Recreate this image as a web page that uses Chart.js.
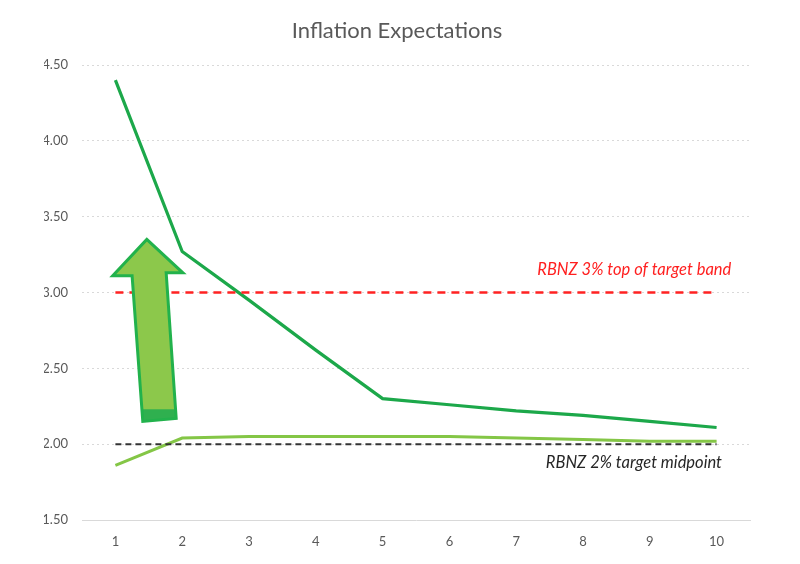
<!DOCTYPE html>
<html lang="en">

<head>
    <meta charset="utf-8">
    <title>Inflation Expectations</title>
    <script src="https://cdn.jsdelivr.net/npm/chart.js@4.4.0/dist/chart.umd.min.js"></script>
    <style>
        body { margin: 0; background: #fff; }
        .kontainer { width: 800px; height: 564px; }
    </style>
</head>

<body>
    <div class="kontainer">
        <canvas id="myChart" width="800" height="564"></canvas>
    </div>
    <script>

        // categories (horizon) and series
        var horisont = ['1', '2', '3', '4', '5', '6', '7', '8', '9', '10'];
        var morkGron = [4.40, 3.27, 2.95, 2.62, 2.30, 2.26, 2.22, 2.19, 2.15, 2.11];
        var ljusGron = [1.86, 2.04, 2.05, 2.05, 2.05, 2.05, 2.04, 2.03, 2.02, 2.02];
        var toppBand = [3, 3, 3, 3, 3, 3, 3, 3, 3, 3];
        var mittpunkt = [2, 2, 2, 2, 2, 2, 2, 2, 2, 2];

        // y-axis ticks
        var yTicks = [1.5, 2.0, 2.5, 3.0, 3.5, 4.0, 4.5];

        // text labels: [text, category index (right edge), value, colour]
        var etiketter = [
            ['RBNZ 3% top of target band', 9.22, 3.15, '#ff1f1f'],
            ['RBNZ 2% target midpoint', 9.08, 1.88, '#262626']
        ];

        // arrow outline in data units: [category index, value]
        var pil = [
            [0.47, 3.35], [1.01, 3.13], [0.76, 3.13], [0.91, 2.17],
            [0.41, 2.15], [0.25, 3.11], [-0.04, 3.11]
        ];

        const FONT = 'Lato, "DejaVu Sans", sans-serif';

        const pilPlugin = {
            id: 'pil',
            afterDatasetsDraw(chart) {
                const ctx = chart.ctx;
                const x = chart.scales.x, y = chart.scales.y;
                const p = pil.map(q => [x.getPixelForValue(q[0]), y.getPixelForValue(q[1])]);
                ctx.save();
                ctx.beginPath();
                p.forEach((q, i) => i ? ctx.lineTo(q[0], q[1]) : ctx.moveTo(q[0], q[1]));
                ctx.closePath();
                ctx.fillStyle = '#8cc84b';
                ctx.fill();
                // darker band at the foot of the shaft
                ctx.save();
                ctx.clip();
                ctx.fillStyle = '#2fb04f';
                const fot = y.getPixelForValue(2.23);
                ctx.fillRect(p[4][0] - 5, fot, p[3][0] - p[4][0] + 10, 30);
                ctx.restore();
                ctx.lineWidth = 3;
                ctx.lineJoin = 'miter';
                ctx.strokeStyle = '#22b24c';
                ctx.stroke();

                // text labels
                ctx.font = 'italic 16.5px ' + FONT;
                ctx.textAlign = 'right';
                ctx.textBaseline = 'middle';
                etiketter.forEach(e => {
                    ctx.fillStyle = e[3];
                    ctx.fillText(e[0], x.getPixelForValue(e[1]), y.getPixelForValue(e[2]));
                });
                ctx.restore();
            }
        };

        const ctx = document.getElementById('myChart').getContext('2d');
        const myChart = new Chart(ctx, {
            type: 'line',
            data: {
                labels: horisont,
                datasets: [{
                    label: 'Top of band',
                    data: toppBand,
                    borderColor: '#ff2222',
                    borderWidth: 2.5,
                    borderDash: [8, 6],
                    pointRadius: 0
                }, {
                    label: 'Midpoint',
                    data: mittpunkt,
                    borderColor: '#333333',
                    borderWidth: 2,
                    borderDash: [6, 4],
                    pointRadius: 0
                }, {
                    label: 'Lower',
                    data: ljusGron,
                    borderColor: '#84c646',
                    borderWidth: 3,
                    pointRadius: 0
                }, {
                    label: 'Upper',
                    data: morkGron,
                    borderColor: '#1ca84a',
                    borderWidth: 3.2,
                    pointRadius: 0
                }]
            },
            options: {
                responsive: false,
                animation: false,
                layout: { padding: { top: 18, right: 50, bottom: 0, left: 44 } },
                plugins: {
                    legend: { display: false },
                    tooltip: { enabled: false },
                    title: {
                        display: true,
                        text: 'Inflation Expectations',
                        color: '#595959',
                        font: { family: FONT, size: 22, weight: 'normal' },
                        padding: { top: 0, bottom: 20.6 }
                    }
                },
                scales: {
                    x: {
                        offset: true,
                        grid: { display: false, drawTicks: false },
                        border: { display: true, color: '#d9d9d9', width: 1 },
                        ticks: { color: '#595959', font: { family: FONT, size: 13 }, padding: 14 },
                        afterFit(s) { s.height = 44; }
                    },
                    y: {
                        min: 1.5,
                        max: 4.5,
                        afterBuildTicks(s) { s.ticks = yTicks.map(v => ({ value: v })); },
                        grid: { color: '#d9d9d9', drawTicks: false },
                        border: { display: false, dash: [2, 3] },
                        ticks: {
                            color: '#595959',
                            font: { family: FONT, size: 13 },
                            padding: 14,
                            callback: v => v.toFixed(2)
                        },
                        afterFit(s) { s.width = 38; }
                    }
                }
            },
            plugins: [pilPlugin]
        });
    </script>
</body>

</html>
